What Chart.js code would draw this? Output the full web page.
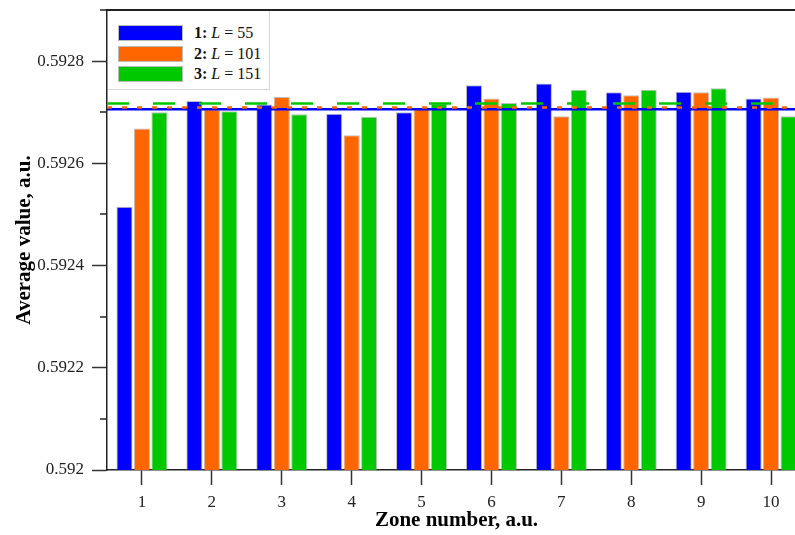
<!DOCTYPE html>
<html>
<head>
<meta charset="utf-8">
<script src="https://cdn.jsdelivr.net/npm/chart.js@4.4.1/dist/chart.umd.min.js"></script>
<style>
  html, body { margin: 0; padding: 0; background: #fff; overflow: hidden; }
  #wrap { position: relative; width: 810px; height: 535px; }
  #legend {
    position: absolute; left: 108px; top: 11px; width: 161px; height: 78px;
    background: #fff; border-right: 1px solid #d6d6d6; border-bottom: 1px solid #d6d6d6;
    font-family: 'Liberation Serif', serif; font-size: 16px; color: #111;
    pointer-events: none;
  }
  .row { position: absolute; left: 10px; height: 16px; line-height: 16px; white-space: nowrap; }
  .sw { display: inline-block; width: 63px; height: 14px; vertical-align: top; border: 1px solid #bbb; margin-right: 11px; }
</style>
</head>
<body>
<div id="wrap">
  <canvas id="chart" width="810" height="535"></canvas>
  <div id="legend"></div>
</div>
<script>
const zones = ['1', '2', '3', '4', '5', '6', '7', '8', '9', '10'];

const seriesL55  = [0.592515, 0.592722, 0.592715, 0.592697, 0.592700, 0.592753, 0.592756, 0.592739, 0.592740, 0.592727];
const seriesL101 = [0.592668, 0.592706, 0.592730, 0.592655, 0.592708, 0.592727, 0.592692, 0.592733, 0.592739, 0.592729];
const seriesL151 = [0.592700, 0.592702, 0.592696, 0.592691, 0.592717, 0.592718, 0.592744, 0.592744, 0.592747, 0.592692];

// horizontal reference levels (one per series)
const refLevels = [0.592706, 0.592709, 0.592717];

const seriesNames = ['1', '2', '3'];
const seriesL = ['55', '101', '151'];
const colors = ['#0000ff', '#ff6600', '#00c800'];

const yMajorTicks = [0.592, 0.5922, 0.5924, 0.5926, 0.5928];
const yTickLabels = ['0.592', '0.5922', '0.5924', '0.5926', '0.5928'];
const yMinorTicks = [0.5921, 0.5923, 0.5925, 0.5927, 0.5929];

const serif = 'Liberation Serif';

function majorIndex(v) {
    return yMajorTicks.findIndex(t => Math.abs(t - v) < 1e-9);
}

// reference levels drawn across the full plot width
const dashes = [[], [5, 10], [22, 24]];
const refLines = {
    id: 'refLines',
    afterDatasetsDraw(chart) {
        const { ctx, chartArea } = chart;
        const y = chart.scales.y;
        ctx.save();
        refLevels.forEach((v, i) => {
            const py = y.getPixelForValue(v);
            ctx.strokeStyle = colors[i];
            ctx.lineWidth = 2.5;
            ctx.setLineDash(dashes[i]);
            ctx.beginPath();
            ctx.moveTo(chartArea.left, py);
            ctx.lineTo(chart.width, py);
            ctx.stroke();
        });
        ctx.restore();
    }
};

// minor ticks on y, plus the top frame line
const frameExtras = {
    id: 'frameExtras',
    afterDraw(chart) {
        const { ctx, chartArea } = chart;
        const y = chart.scales.y;
        ctx.save();
        ctx.strokeStyle = '#222';
        ctx.lineWidth = 1.5;
        yMinorTicks.forEach(v => {
            const py = Math.round(y.getPixelForValue(v));
            ctx.beginPath();
            ctx.moveTo(chartArea.left - 7, py);
            ctx.lineTo(chartArea.left, py);
            ctx.stroke();
        });
        ctx.lineWidth = 2;
        ctx.beginPath();
        ctx.moveTo(chartArea.left, chartArea.top);
        ctx.lineTo(chart.width, chartArea.top);
        ctx.stroke();
        ctx.restore();
    }
};

const barSets = [seriesL55, seriesL101, seriesL151].map((d, i) => ({
    label: seriesNames[i] + ': L = ' + seriesL[i],
    data: d,
    backgroundColor: colors[i],
    borderColor: 'rgba(110,110,110,0.45)',
    borderWidth: 1,
    categoryPercentage: 0.75,
    barPercentage: 0.92
}));

const chart = new Chart(document.getElementById('chart').getContext('2d'), {
    type: 'bar',
    data: {
        labels: zones,
        datasets: barSets
    },
    options: {
        responsive: false,
        devicePixelRatio: 1,
        animation: false,
        layout: { padding: { left: 0, top: 10, right: 4, bottom: 0 } },
        plugins: {
            legend: { display: false },
            tooltip: { enabled: false }
        },
        scales: {
            x: {
                grid: {
                    offset: false,
                    drawOnChartArea: false,
                    tickLength: 15,
                    tickColor: '#333',
                    tickWidth: 1.5
                },
                border: { color: '#222', width: 1.5 },
                ticks: {
                    color: '#222',
                    padding: 7,
                    font: { family: serif, size: 17 }
                },
                title: {
                    display: true,
                    text: 'Zone number, a.u.',
                    color: '#000',
                    font: { family: serif, size: 21, weight: 'bold', lineHeight: 1.2 },
                    padding: { top: 0, bottom: 2 }
                },
                afterFit(scale) {
                    scale.height = 65;
                    scale.paddingLeft = 0;
                    scale.paddingRight = 0;
                }
            },
            y: {
                min: 0.592,
                max: 0.5929,
                grid: {
                    drawOnChartArea: false,
                    tickLength: 15,
                    tickWidth: 1.5,
                    tickColor: '#333'
                },
                border: { color: '#222', width: 1.5 },
                afterBuildTicks(scale) {
                    scale.ticks = yMajorTicks.map(v => ({ value: v }));
                },
                ticks: {
                    color: '#222',
                    padding: 8,
                    font: { family: serif, size: 17 },
                    callback: v => {
                        const i = majorIndex(v);
                        return i >= 0 ? yTickLabels[i] : '';
                    }
                },
                title: {
                    display: true,
                    text: 'Average value, a.u.',
                    color: '#000',
                    font: { family: serif, size: 21, weight: 'bold', lineHeight: 1.2 },
                    padding: { top: 12, bottom: 0 }
                },
                afterFit(scale) {
                    scale.width = 107;
                    scale.paddingTop = 0;
                    scale.paddingBottom = 0;
                }
            }
        }
    },
    plugins: [refLines, frameExtras]
});

// legend with mixed bold / italic text
const legendEl = document.getElementById('legend');
barSets.forEach((ds, i) => {
    const row = document.createElement('div');
    row.className = 'row';
    row.style.top = (14 + i * 20.5) + 'px';
    row.innerHTML = '<span class="sw" style="background:' + ds.backgroundColor + '"></span>' +
        '<b>' + seriesNames[i] + ':</b> <i>L</i> = ' + seriesL[i];
    legendEl.appendChild(row);
});
</script>
</body>
</html>
